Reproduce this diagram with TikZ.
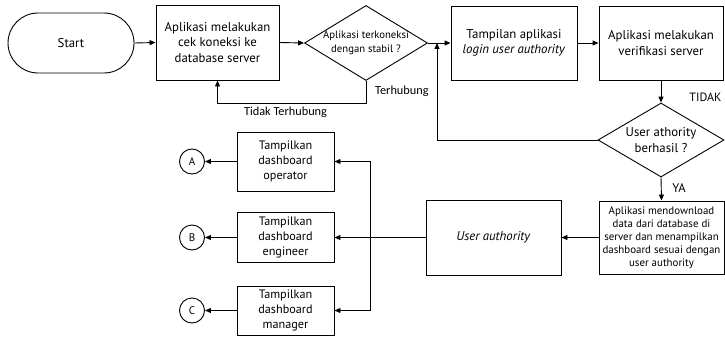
\documentclass[tikz,border=0pt]{standalone}
\usepackage{fontspec}
\setmainfont{PT Sans}
\newfontfamily\lblfont{Carlito}
\usetikzlibrary{shapes.geometric,arrows.meta}
\begin{document}
\begin{tikzpicture}[x=1pt,y=-1pt,
  every node/.style={inner sep=0pt, align=center},
  base/.style={draw, line width=0.9pt},
  txt/.style={font=\fontsize{12.8}{15.5}\selectfont},
  dashtxt/.style={font=\fontsize{12.2}{15}\selectfont},
  smalltxt/.style={font=\fontsize{10.7}{14}\selectfont},
  tinytxt/.style={font=\fontsize{10.9}{13}\selectfont},
  lbl/.style={font=\lblfont\fontsize{12.3}{14}\selectfont},
  procbox/.style={base, rectangle, txt},
  terminal/.style={base, rectangle, rounded corners=30pt, minimum width=126pt, minimum height=60pt, txt},
  decision/.style={base, diamond},
  endpoint/.style={base, circle, minimum size=25pt, font=\fontsize{11}{12}\selectfont},
  flow/.style={line width=0.9pt, -{Triangle[length=6pt,width=5pt]}},
]
\useasboundingbox (0,0) rectangle (725,337);

% main row
\node[terminal] (start) at (71,43) {Start};
\node[procbox, minimum width=123pt, minimum height=75pt] (b1) at (217.5,42.5)
  {Aplikasi melakukan\\cek koneksi ke\\database server};
\node[decision, minimum width=123pt, minimum height=75pt] (d1) at (366,43) {};
\node[smalltxt] (d1t) at (d1) {Aplikasi terkoneksi\\dengan stabil ?};
\node[procbox, minimum width=126pt, minimum height=74pt] (b3) at (514,43)
  {Tampilan aplikasi\\\textit{login user authority}};
\node[procbox, minimum width=124pt, minimum height=74pt] (b4) at (661,43)
  {Aplikasi melakukan\\verifikasi server};

% verification branch
\node[decision, minimum width=126pt, minimum height=74pt] (d2) at (661,140) {};
\node[txt] (d2t) at (d2) {User athority\\berhasil ?};
\node[procbox, tinytxt, minimum width=125pt, minimum height=73pt] (b6) at (661.5,237.5)
  {Aplikasi mendownload\\data dari database di\\server dan menampilkan\\dashboard sesuai dengan\\user authority};
\node[procbox, minimum width=135pt, minimum height=75pt] (b7) at (493.5,237.5)
  {\textit{User authority}};

% dashboards
\node[procbox, dashtxt, minimum width=97pt, minimum height=59pt] (dA) at (285.5,161.5)
  {Tampilkan\\dashboard\\operator};
\node[procbox, dashtxt, minimum width=97pt, minimum height=50pt] (dB) at (285.5,237.5)
  {Tampilkan\\dashboard\\engineer};
\node[procbox, dashtxt, minimum width=97pt, minimum height=49pt] (dC) at (285.5,310.5)
  {Tampilkan\\dashboard\\manager};
\node[endpoint] (cA) at (192,161.5) {A};
\node[endpoint] (cB) at (192,237.5) {B};
\node[endpoint] (cC) at (192,310.5) {C};

% junction points
\coordinate (j1) at (437,43);
\coordinate (j2) at (370,237.5);
\coordinate (j3) at (366,103);

% connectors
\draw[flow] (start.east) -- (b1.west);
\draw[flow] (b1.east) -- (d1.west);
\draw[flow] (d1.east) -- (b3.west);
\draw[flow] (b3.east) -- (b4.west);
\draw[flow] (d1.south) -- (j3) -| (b1.south);
\draw[flow] (b4.south) -- (d2.north);
\draw[flow] (d2.west) -| (j1);
\draw[flow] (d2.south) -- (b6.north);
\draw[flow] (b6.west) -- (b7.east);
\draw[flow] (b7.west) -- (dB.east);
\draw[flow] (j2) |- (dA.east);
\draw[flow] (j2) |- (dC.east);
\draw[flow] (dA.west) -- (cA.east);
\draw[flow] (dB.west) -- (cB.east);
\draw[flow] (dC.west) -- (cC.east);

% branch labels
\node[lbl, anchor=west] (lyes) at (375,91) {Terhubung};
\node[lbl] (lno) at (285.5,112) {Tidak Terhubung};
\node[font=\fontsize{12}{13}\selectfont] (ltidak) at (705.5,97) {TIDAK};
\node[font=\fontsize{12.5}{13}\selectfont] (lya) at (679,188) {YA};
\end{tikzpicture}
\end{document}
